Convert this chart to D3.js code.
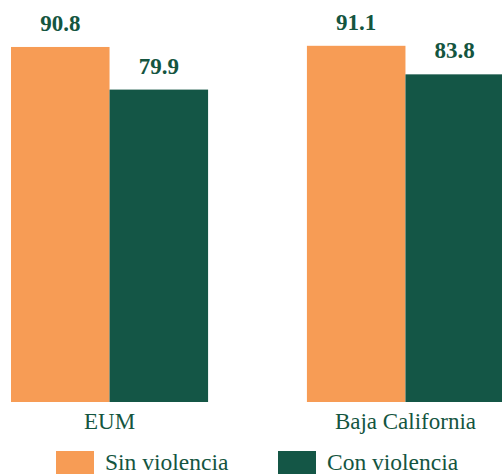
<!DOCTYPE html>
<html>
<head>
<meta charset="utf-8">
<script src="https://cdn.jsdelivr.net/npm/d3@7"></script>
<style>
  html, body { margin: 0; padding: 0; background: #fff; }
  svg { display: block; }
</style>
</head>
<body>
<svg id="chart" width="502" height="474"></svg>
<script>
const categories = ["EUM", "Baja California"];
const seriesNames = ["Sin violencia", "Con violencia"];
const sinViolencia = [90.8, 91.1];
const conViolencia = [79.9, 83.8];
const barColors = ["#f79c55", "#145646"];
const textColor = "#14553f";

const svg = d3.select("#chart");
const baseY = 402;

const x0 = d3.scaleBand().domain(categories).range([11, 504]).paddingInner(0.334).paddingOuter(0);
const x1 = d3.scaleBand().domain(seriesNames).range([0, x0.bandwidth()]).padding(0);
const y = d3.scaleLinear().domain([0, 100]).range([baseY, baseY - 391]);
const color = d3.scaleOrdinal().domain(seriesNames).range(barColors);

// plain appends, one text at a time
function label(x, yy, str, size, bold, anchor) {
  svg.append("text")
    .attr("x", x)
    .attr("y", yy)
    .attr("font-family", "'Liberation Serif'")
    .attr("font-size", size)
    .attr("font-weight", bold ? "bold" : "normal")
    .attr("text-anchor", anchor)
    .attr("fill", textColor)
    .text(str);
}

categories.forEach((c, i) => {
  const vals = [sinViolencia[i], conViolencia[i]];
  seriesNames.forEach((s, j) => {
    const bx = x0(c) + x1(s);
    svg.append("rect")
      .attr("x", bx)
      .attr("y", y(vals[j]))
      .attr("width", x1.bandwidth())
      .attr("height", baseY - y(vals[j]))
      .attr("fill", color(s));
    label(bx + x1.bandwidth() / 2, y(vals[j]) - 16, vals[j].toFixed(1), 23, true, "middle");
  });
  label(x0(c) + x0.bandwidth() / 2, 429, c, 23, false, "middle");
});

// legend
const legendX = [56, 278];
seriesNames.forEach((s, i) => {
  svg.append("rect")
    .attr("x", legendX[i])
    .attr("y", 451)
    .attr("width", 38)
    .attr("height", 24)
    .attr("fill", color(s));
  label(legendX[i] + 49, 470, s, 23.5, false, "start");
});
</script>
</body>
</html>
